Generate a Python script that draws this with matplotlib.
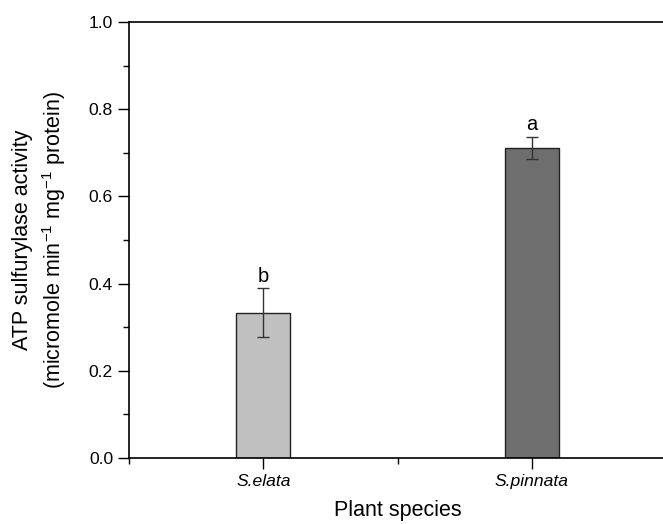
import matplotlib.pyplot as plt
from matplotlib.ticker import MultipleLocator

species = ['S.elata', 'S.pinnata']
activity = [0.333, 0.711]
errors = [0.056, 0.025]
letters = ['b', 'a']
bar_colors = ['#c0c0c0', '#6e6e6e']

plt.rcParams['font.family'] = 'Liberation Sans'
plt.rcParams['mathtext.fontset'] = 'custom'
plt.rcParams['mathtext.rm'] = 'Liberation Sans'

fig = plt.figure(figsize=(6.63, 5.24), dpi=100)
ax = fig.add_axes([0.1946, 0.126, 0.81, 0.832])

x = range(len(species))
ax.bar(x, activity, width=0.2, color=bar_colors, edgecolor='#222222', linewidth=1.0,
       yerr=errors, error_kw=dict(ecolor='#333333', elinewidth=1.0, capsize=4, capthick=1.0),
       zorder=2)

for i, (v, e, l) in enumerate(zip(activity, errors, letters)):
    ax.text(i, v + e + 0.006, l, ha='center', va='bottom', fontsize=14.5)

ax.set_xlim(-0.5, 1.5)
ax.set_ylim(0, 1.0)
ax.set_xticks(list(x))
ax.set_xticklabels(species, fontstyle='italic')
ax.xaxis.set_minor_locator(MultipleLocator(0.5))
ax.yaxis.set_major_locator(MultipleLocator(0.2))
ax.yaxis.set_minor_locator(MultipleLocator(0.1))
ax.tick_params(axis='both', which='major', direction='out', length=8, width=1, labelsize=12.6)
ax.tick_params(axis='both', which='minor', direction='out', length=4, width=1)
for s in ax.spines.values():
    s.set_linewidth(1.2)

ax.set_ylabel('ATP sulfurylase activity\n(micromole min$^{\\mathrm{-1}}$ mg$^{\\mathrm{-1}}$ protein)',
              fontsize=15.5, labelpad=15, linespacing=1.35)
ax.set_xlabel('Plant species', fontsize=15.5, labelpad=8)

fig.savefig('out.png', dpi=100)
